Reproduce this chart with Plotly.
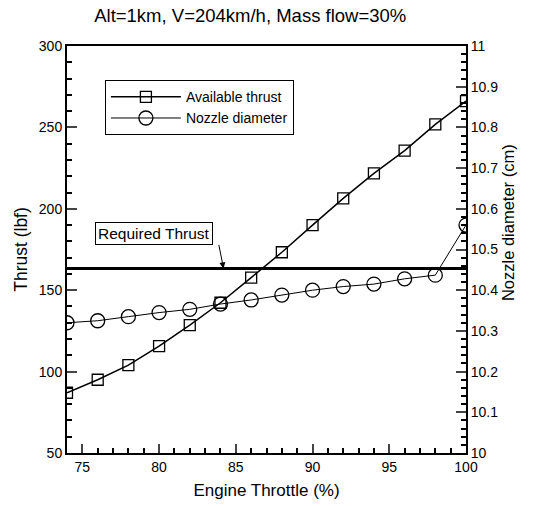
import plotly.graph_objects as go

throttle = [74, 76, 78, 80, 82, 84, 86, 88, 90, 92, 94, 96, 98, 100]
thrust = [87, 95, 104, 115.7, 128.6, 142.3, 157.7, 173.3, 190, 206.4, 221.8, 235.7, 251.9, 266.2]
nozzle = [10.320, 10.325, 10.335, 10.345, 10.353, 10.366, 10.376, 10.388, 10.400, 10.409, 10.415, 10.428, 10.437, 10.56]
required_thrust = 163.4

FONT = "Arial, Liberation Sans, sans-serif"

fig = go.Figure()
fig.add_trace(go.Scatter(
    x=throttle, y=thrust, name="Available thrust", mode="lines+markers",
    line=dict(color="black", width=1.5),
    marker=dict(symbol="square-open", size=11, color="black", line=dict(width=1.3)),
))
fig.add_trace(go.Scatter(
    x=throttle, y=nozzle, name="Nozzle diameter", mode="lines+markers", yaxis="y2",
    line=dict(color="black", width=1),
    marker=dict(symbol="circle-open", size=14, color="black", line=dict(width=1.3)),
))

fig.add_shape(type="line", xref="x", yref="y", x0=74, x1=100,
              y0=required_thrust, y1=required_thrust,
              line=dict(color="black", width=3))

fig.add_annotation(x=79.7, y=185.1, xref="x", yref="y", text="Required Thrust",
                   showarrow=False, bordercolor="black", borderwidth=1, borderpad=2,
                   font=dict(family=FONT, size=15.5, color="black"), bgcolor="white")
fig.add_annotation(x=84.2, y=required_thrust, xref="x", yref="y", text="",
                   showarrow=True, arrowhead=2, arrowsize=1.2, arrowwidth=1,
                   arrowcolor="black", ax=-5, ay=-25)

# right axis title placed as text
fig.add_annotation(x=1.133, y=0.565, xref="paper", yref="paper",
                   text="Nozzle diameter (cm)", textangle=-90, showarrow=False,
                   font=dict(family=FONT, size=16.5, color="black"))

fig.update_layout(
    width=537, height=506,
    margin=dict(l=67, r=71, t=46, b=53),
    paper_bgcolor="white", plot_bgcolor="white",
    font=dict(family=FONT, size=14, color="black"),
    title=dict(text="Alt=1km, V=204km/h, Mass flow=30%", x=0.466, xanchor="center",
               y=0.97, yanchor="middle", font=dict(size=18.5)),
    showlegend=True,
    legend=dict(x=0.095, y=0.916, xanchor="left", yanchor="top",
                bordercolor="black", borderwidth=1, bgcolor="white",
                font=dict(size=14), tracegroupgap=0, itemwidth=70),
    xaxis=dict(range=[74, 100], tick0=75, dtick=5, ticks="inside", ticklen=9,
               tickwidth=2, showline=True, linecolor="black", linewidth=2,
               mirror=True, showgrid=False, zeroline=False, automargin=False,
               minor=dict(ticks="inside", dtick=1, ticklen=5, tickcolor="black", showgrid=False),
               title=dict(text="Engine Throttle (%)", font=dict(size=17), standoff=10),
               tickfont=dict(size=14)),
    yaxis=dict(range=[50, 300], dtick=50, ticks="inside", ticklen=10, tickwidth=2,
               showline=True, linecolor="black", linewidth=2, showgrid=False,
               zeroline=False, automargin=False,
               minor=dict(ticks="inside", dtick=10, ticklen=5, tickcolor="black", showgrid=False),
               title=dict(text="Thrust (lbf)", font=dict(size=17.5), standoff=7),
               tickfont=dict(size=14)),
    yaxis2=dict(range=[10, 11], dtick=0.1, overlaying="y", side="right",
                ticks="inside", ticklen=10, tickwidth=2, showline=True,
                linecolor="black", linewidth=2, showgrid=False, zeroline=False,
                automargin=False,
                minor=dict(ticks="inside", dtick=0.02, ticklen=5, tickcolor="black", showgrid=False),
                tickfont=dict(size=14)),
)

fig.write_html("out.html")
